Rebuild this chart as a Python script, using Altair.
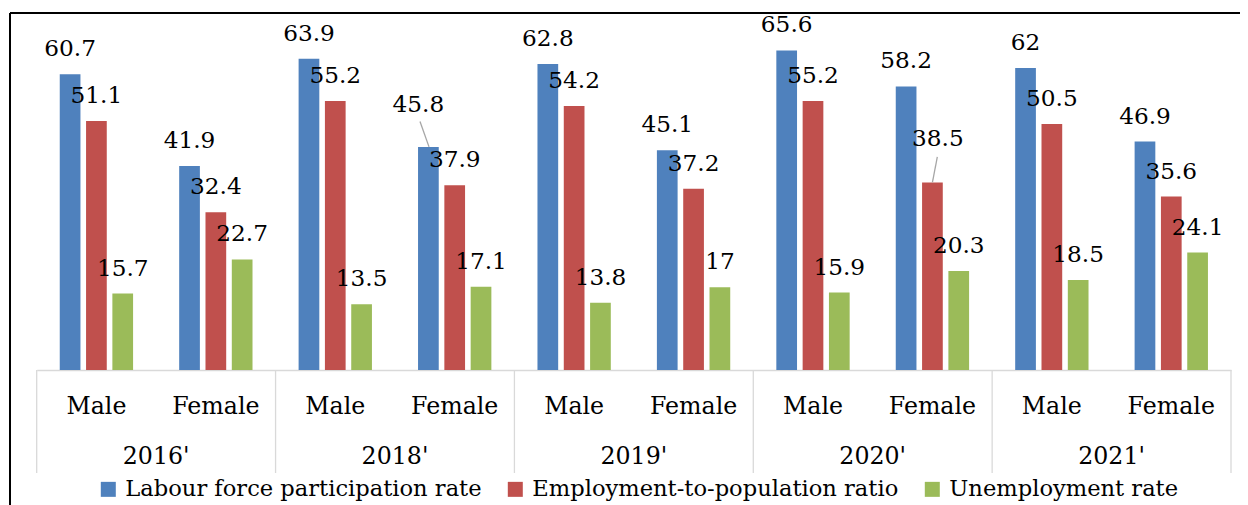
import altair as alt
import pandas as pd

years = ["2016'", "2018'", "2019'", "2020'", "2021'"]
genders = ["Male", "Female"]
series = ["Labour force participation rate", "Employment-to-population ratio", "Unemployment rate"]
lfpr = [60.7, 41.9, 63.9, 45.8, 62.8, 45.1, 65.6, 58.2, 62, 46.9]
epr = [51.1, 32.4, 55.2, 37.9, 54.2, 37.2, 55.2, 38.5, 50.5, 35.6]
ur = [15.7, 22.7, 13.5, 17.1, 13.8, 17, 15.9, 20.3, 18.5, 24.1]
colors = ["#4F81BD", "#C0504D", "#9BBB59"]

keys = [y.replace("'", "") for y in years]
cats = [f"{k}|{g}" for k in keys for g in genders]
rows = []
for si, (s, vals) in enumerate(zip(series, [lfpr, epr, ur])):
    for i, v in enumerate(vals):
        rows.append({"cat": cats[i], "key": keys[i // 2], "year": years[i // 2],
                     "gender": genders[i % 2], "series": s, "sidx": si, "value": v})
df = pd.DataFrame(rows)

FONT = "DejaVu Serif"
FS_LAB = 23.2
FS_AX = 23.7
FS_LEG = 22.6
W = 1194.3
H = 341

x_axis = alt.Axis(title=None, labelExpr="split(datum.label, '|')[1]", labelFont=FONT,
                  labelFontSize=FS_AX, labelColor="black", labelAngle=0, labelPadding=24.3,
                  ticks=False, tickSize=0, domainColor="#D9D9D9", domainWidth=1.3,
                  grid=False, labelOverlap=False)
x_scale = alt.Scale(paddingInner=0, paddingOuter=0)


def X(**kw):
    return alt.X("cat:N", sort=cats, scale=x_scale, axis=x_axis, **kw)


xo = alt.XOffset("series:N", sort=series, scale=alt.Scale(paddingInner=0.213, paddingOuter=0.876))
yenc = alt.Y("value:Q", scale=alt.Scale(domain=[0, 70]), axis=None)

bars = alt.Chart().mark_bar().encode(
    x=X(), xOffset=xo, y=yenc,
    color=alt.Color("series:N", sort=series, scale=alt.Scale(domain=series, range=colors),
                    legend=alt.Legend(title=None, orient="none", legendX=60.3, legendY=449,
                                      direction="horizontal", symbolType="square", symbolSize=225,
                                      symbolStrokeWidth=0, labelFont=FONT, labelFontSize=FS_LEG,
                                      labelColor="black", labelOffset=5.7, columnPadding=22,
                                      padding=0, labelLimit=1000))
)

moved1 = "datum.key == '2018' && datum.gender == 'Female' && datum.sidx == 0"
moved2 = "datum.key == '2020' && datum.gender == 'Female' && datum.sidx == 1"


def text_layer(flt, dx=0, dy=-18):
    return alt.Chart().mark_text(font=FONT, fontSize=FS_LAB, color="black", baseline="alphabetic",
                                 dx=dx, dy=dy).encode(
        x=X(), xOffset=xo, y=yenc, text=alt.Text("value:Q")
    ).transform_filter(flt)


labels = text_layer(f"!({moved1}) && !({moved2})")
lab1 = text_layer(moved1, dx=-10, dy=-35)
lab2 = text_layer(moved2, dx=5.5, dy=-36.3)

lead1 = alt.Chart().mark_rule(color="#A6A6A6", strokeWidth=1.3, xOffset=-34.7, x2Offset=-25.7,
                              yOffset=-25.3, y2Offset=0).encode(
    x=X(), x2=alt.X2("cat"), y=yenc, y2=alt.Y2("value")
).transform_filter(moved1)

lead2 = alt.Chart().mark_rule(color="#A6A6A6", strokeWidth=1.3, xOffset=4.9, x2Offset=0,
                              yOffset=-25.6, y2Offset=0).encode(
    x=X(), x2=alt.X2("cat"), y=yenc, y2=alt.Y2("value")
).transform_filter(moved2)

first = "datum.sidx == 0"

seps = alt.Chart().mark_rule(color="#D9D9D9", strokeWidth=1.3).encode(
    x=X(bandPosition=0), y=alt.value(H), y2=alt.value(H + 103)
).transform_filter(f"{first} && datum.gender == 'Male'")

sep_end = alt.Chart().mark_rule(color="#D9D9D9", strokeWidth=1.3).encode(
    x=X(bandPosition=1), y=alt.value(H), y2=alt.value(H + 103)
).transform_filter(f"{first} && datum.key == '{keys[-1]}' && datum.gender == 'Female'")

year_labels = alt.Chart().mark_text(font=FONT, fontSize=FS_AX, color="black", baseline="alphabetic").encode(
    x=X(bandPosition=0), y=alt.value(435.3), text="year:N"
).transform_filter(f"{first} && datum.gender == 'Female'")

frame_df = pd.DataFrame({"k": [0]})
frame_top = alt.Chart(frame_df).mark_rule(color="black", strokeWidth=2).encode(
    x=alt.value(-26.7), x2=alt.value(W + 9), y=alt.value(-16)
)
frame_left = alt.Chart(frame_df).mark_rule(color="black", strokeWidth=2).encode(
    x=alt.value(-26.7), y=alt.value(-16), y2=alt.value(500)
)

chart = alt.layer(
    seps, sep_end, bars, lead1, lead2, labels, lab1, lab2, year_labels, frame_top, frame_left,
    data=df
).properties(
    width=W, height=H,
    padding={"left": 28.7, "top": 21, "right": 9, "bottom": 140},
    autosize=alt.AutoSizeParams(type="none"),
).configure_view(stroke=None)

chart.save("out.html", embed_options={"renderer": "svg", "actions": False})
